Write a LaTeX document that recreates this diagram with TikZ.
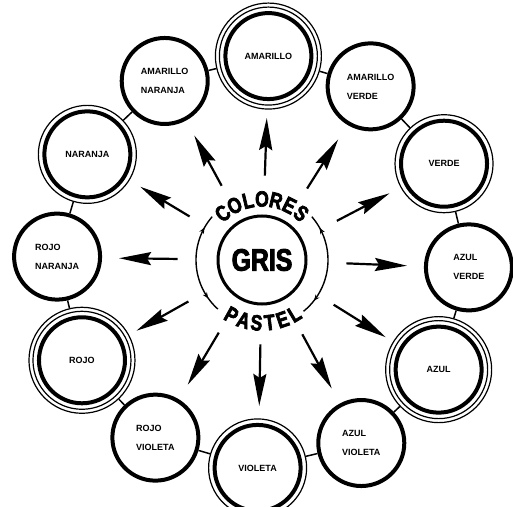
\documentclass[tikz,border=0pt]{standalone}
\usepackage{fontspec}
\setmainfont{Liberation Sans}
\newfontfamily\heavyfont[FakeStretch=0.8,FakeBold=3]{Liberation Sans Bold}
\usepackage{tikz}
\usetikzlibrary{arrows.meta,decorations.markings}

\tikzset{
	ring/.style={line width=1.2pt},
	link/.style={line width=1.5pt},
	pointer/.style={line width=2.2pt,-{Stealth[length=32pt,width=13pt,inset=4pt]},shorten <=39pt},
	loop arc/.style={line width=1.4pt,postaction={decorate},
		decoration={markings,
			mark=at position 0.14 with {\arrowreversed{Stealth[length=6pt,width=5pt]}},
			mark=at position 0.87 with {\arrow{Stealth[length=6pt,width=5pt]}}}}
}

\begin{document}
\begin{tikzpicture}[x=1pt,y=1pt]
	\useasboundingbox (0,0) rectangle (513,506);
	\begin{scope}[shift={(263,244)}]
	% wheel of twelve colours
	\begin{scope}[every node/.style={circle,draw,line width=4pt,minimum size=86pt,inner sep=0pt,align=left,font=\bfseries\fontsize{9}{19}\selectfont}]
		\node[outer sep=10.5pt] (am) at (88.5:206) {AMARILLO};
		\node (amve) at (58.5:206) {AMARILLO\\VERDE};
		\node[outer sep=6.5pt] (ve) at (28.5:206) {VERDE};
		\node (azve) at (-1.5:206) {AZUL\\VERDE};
		\node[outer sep=10.5pt] (az) at (-31.5:206) {AZUL};
		\node (azvi) at (-61.5:206) {AZUL\\VIOLETA};
		\node[outer sep=6.5pt] (vi) at (-91.5:206) {VIOLETA};
		\node (rovi) at (-121.5:206) {ROJO\\VIOLETA};
		\node[outer sep=10.5pt] (ro) at (-151.5:206) {ROJO};
		\node (rona) at (178.5:206) {ROJO\\NARANJA};
		\node[outer sep=6.5pt] (na) at (148.5:206) {NARANJA};
		\node (amna) at (118.5:206) {AMARILLO\\NARANJA};
	\end{scope}
	% thin rings
	\draw[ring] (am.center) circle (49) (am.center) circle (53);
	\draw[ring] (az.center) circle (49) (az.center) circle (53);
	\draw[ring] (ro.center) circle (49) (ro.center) circle (53);
	\draw[ring] (ve.center) circle (49);
	\draw[ring] (vi.center) circle (49);
	\draw[ring] (na.center) circle (49);
	% links round the wheel
	\begin{scope}[link]
		\draw (am) -- (amve);
		\draw (amve) -- (ve);
		\draw (ve) -- (azve);
		\draw (azve) -- (az);
		\draw (az) -- (azvi);
		\draw (azvi) -- (vi);
		\draw (vi) -- (rovi);
		\draw (rovi) -- (ro);
		\draw (ro) -- (rona);
		\draw (rona) -- (na);
		\draw (na) -- (amna);
		\draw (amna) -- (am);
	\end{scope}
	% centre
	\node[circle,draw,line width=3pt,minimum size=88pt,inner sep=0pt,font=\heavyfont\fontsize{31}{31}\selectfont] (gris) at (-1,2) {GRIS};
	\foreach \a [count=\i] in {88.5,58.5,28.5,-1.5,-31.5,-61.5,-91.5,-121.5,-151.5,178.5,148.5,118.5}
		\coordinate (tip\i) at (\a:144);
	\foreach \i in {1,...,12}
		\draw[pointer] (gris) -- (tip\i);
	\begin{scope}[shift={(-1,2)}]
		\foreach \ch [count=\k, evaluate=\k as \a using 130-(\k-1)*13.33] in {C,O,L,O,R,E,S}
			\node[inner sep=0pt,rotate=\a-90,font=\heavyfont\fontsize{22}{22}\selectfont] (col\k) at (\a:61) {\ch};
		\foreach \ch [count=\k, evaluate=\k as \a using 241+(\k-1)*12] in {P,A,S,T,E,L}
			\node[inner sep=0pt,rotate=\a-270,font=\heavyfont\fontsize{22}{22}\selectfont] (pas\k) at (\a:63) {\ch};
		\draw[loop arc] (228:66) arc[start angle=228,end angle=139,radius=66];
		\draw[loop arc] (-51:66) arc[start angle=-51,end angle=41,radius=66];
	\end{scope}
	\end{scope}
\end{tikzpicture}
\end{document}
